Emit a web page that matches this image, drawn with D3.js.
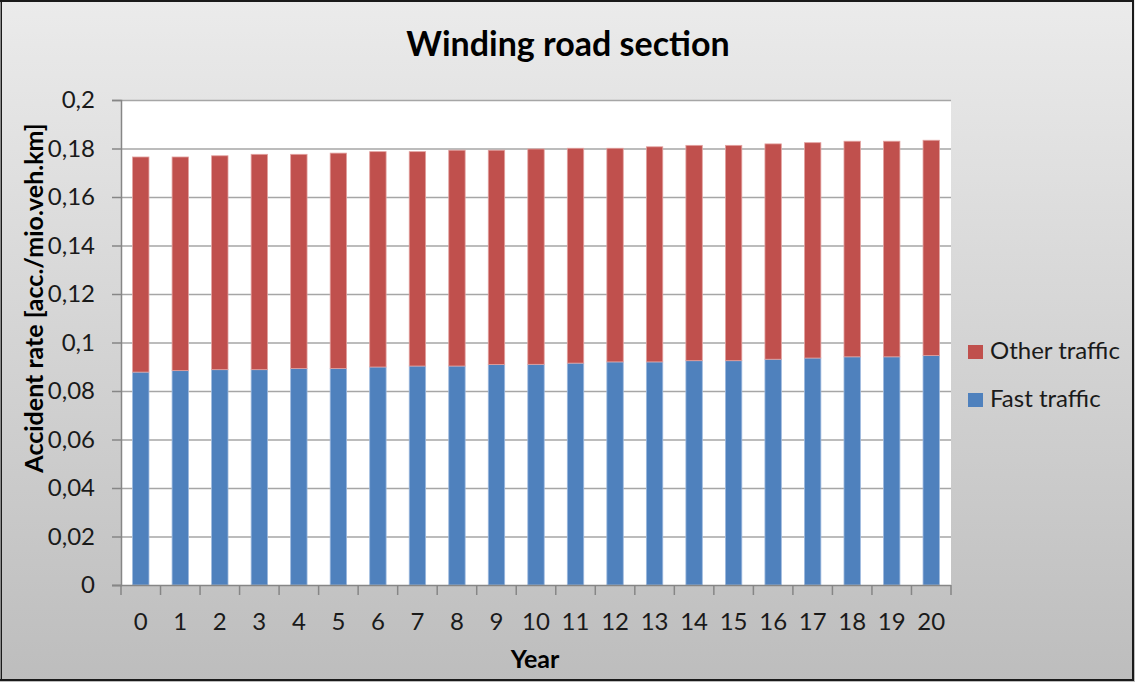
<!DOCTYPE html>
<html>
<head>
<meta charset="utf-8">
<script src="https://cdn.jsdelivr.net/npm/d3@7"></script>
<style>
  html, body { margin: 0; padding: 0; background: #fff; }
  svg { display: block; }
</style>
</head>
<body>
<svg id="chart" width="1135" height="682"></svg>
<script>
const years = ["0","1","2","3","4","5","6","7","8","9","10","11","12","13","14","15","16","17","18","19","20"];
const fastTraffic = [0.0878,0.0884,0.0888,0.0888,0.0893,0.0893,0.0899,0.0903,0.0903,0.0909,0.0910,0.0915,0.0920,0.0920,0.0925,0.0925,0.0931,0.0936,0.0941,0.0941,0.0946];
const otherTraffic = [0.0887,0.0881,0.0882,0.0888,0.0883,0.0888,0.0888,0.0884,0.0890,0.0884,0.0888,0.0886,0.0881,0.0887,0.0888,0.0888,0.0888,0.0888,0.0889,0.0889,0.0888];
const yTicks = [0,0.02,0.04,0.06,0.08,0.1,0.12,0.14,0.16,0.18,0.2];
const seriesNames = ["Fast traffic","Other traffic"];
const seriesColors = ["#4F81BD","#C0504D"];
const strokeColors = ["#9DB9DE","#E3A2A0"];

const svg = d3.select("#chart");
const W = 1135, H = 682;
const font = "Lato, 'Open Sans', sans-serif";

// background gradient
const defs = svg.append("defs");
const grad = defs.append("linearGradient").attr("id","bg").attr("x1",0).attr("y1",0).attr("x2",0).attr("y2",1);
grad.append("stop").attr("offset","0%").attr("stop-color","#ebebeb");
grad.append("stop").attr("offset","100%").attr("stop-color","#bdbdbd");
svg.append("rect").attr("x",0).attr("y",0).attr("width",W).attr("height",H).attr("fill","url(#bg)");

const x = d3.scaleBand().domain(years).range([121,951]).paddingInner(0.585).paddingOuter(0.2925);
const xb = d3.scaleBand().domain(years).range([121,951]);
const y = d3.scaleLinear().domain([0,0.2]).range([585,100]);

// plot area
svg.append("rect").attr("x",121).attr("y",100).attr("width",830).attr("height",485).attr("fill","#fff");

// gridlines
svg.append("g").selectAll("line").data(yTicks.filter(d=>d>0)).join("line")
  .attr("x1",121).attr("x2",951).attr("y1",d=>y(d)+0.5).attr("y2",d=>y(d)+0.5)
  .attr("stroke","#a6a6a6").attr("stroke-width",1.5);

// stacked bars
const data = years.map((yr,i)=>({year:yr, fast:fastTraffic[i], other:otherTraffic[i]}));
const stack = d3.stack().keys(["fast","other"])(data);
stack.forEach((layer,li)=>{
  svg.append("g").selectAll("rect").data(layer).join("rect")
    .attr("x",d=>x(d.data.year))
    .attr("width",x.bandwidth())
    .attr("y",d=>y(d[1]))
    .attr("height",d=>y(d[0])-y(d[1]))
    .attr("fill",seriesColors[li])
    .attr("stroke",strokeColors[li]).attr("stroke-width",0.8);
});

// y axis
const yAxis = d3.axisLeft(y).tickValues(yTicks).tickSize(9).tickPadding(17)
  .tickFormat(d=>d3.format("")(+d.toFixed(2)).replace(".",","));
const gy = svg.append("g").attr("transform","translate(121,0)").call(yAxis);
gy.select(".domain").attr("stroke","#868686").attr("stroke-width",1.5);
gy.selectAll(".tick line").attr("stroke","#868686").attr("stroke-width",1.5);
gy.selectAll("text").attr("font-family",font).attr("font-size",24).attr("fill","#1a1a1a");

// x axis
const gx = svg.append("g").attr("transform","translate(0,585)");
gx.append("line").attr("x1",112).attr("x2",951).attr("y1",0.5).attr("y2",0.5).attr("stroke","#868686").attr("stroke-width",1.5);
const bounds = years.map(d=>xb(d)).concat([951]);
gx.selectAll("line.t").data(bounds).join("line").attr("class","t")
  .attr("x1",d=>d).attr("x2",d=>d).attr("y1",0).attr("y2",10)
  .attr("stroke","#868686").attr("stroke-width",1.5);
gx.selectAll("text").data(years).join("text")
  .attr("x",d=>xb(d)+xb.bandwidth()/2).attr("y",45)
  .attr("text-anchor","middle").attr("font-family",font).attr("font-size",24).attr("fill","#1a1a1a")
  .text(d=>d);

// titles
svg.append("text").attr("x",568).attr("y",56).attr("text-anchor","middle")
  .attr("font-family",font).attr("font-weight","bold").attr("font-size",34).attr("fill","#000")
  .text("Winding road section");
svg.append("text").attr("x",535).attr("y",668).attr("text-anchor","middle")
  .attr("font-family",font).attr("font-weight","bold").attr("font-size",25).attr("fill","#000")
  .text("Year");
svg.append("text").attr("transform","translate(43,298) rotate(-90)").attr("text-anchor","middle")
  .attr("font-family",font).attr("font-weight","bold").attr("font-size",25).attr("fill","#000")
  .text("Accident rate [acc./mio.veh.km]");

// legend (Other traffic on top)
const legendItems = [1,0];
const lg = svg.append("g");
legendItems.forEach((si,k)=>{
  const cy = 352 + k*48;
  lg.append("rect").attr("x",968).attr("y",cy-7).attr("width",15).attr("height",14).attr("fill",seriesColors[si]);
  lg.append("text").attr("x",990).attr("y",cy+7).attr("font-family",font).attr("font-size",24).attr("fill","#1a1a1a")
    .text(seriesNames[si]);
});

// border
svg.append("rect").attr("x",1).attr("y",1).attr("width",1132).attr("height",679)
  .attr("fill","none").attr("stroke","#1a1a1a").attr("stroke-width",2);
svg.append("line").attr("x1",0.5).attr("x2",0.5).attr("y1",2).attr("y2",679).attr("stroke","#8a8a8a").attr("stroke-width",1);
</script>
</body>
</html>
